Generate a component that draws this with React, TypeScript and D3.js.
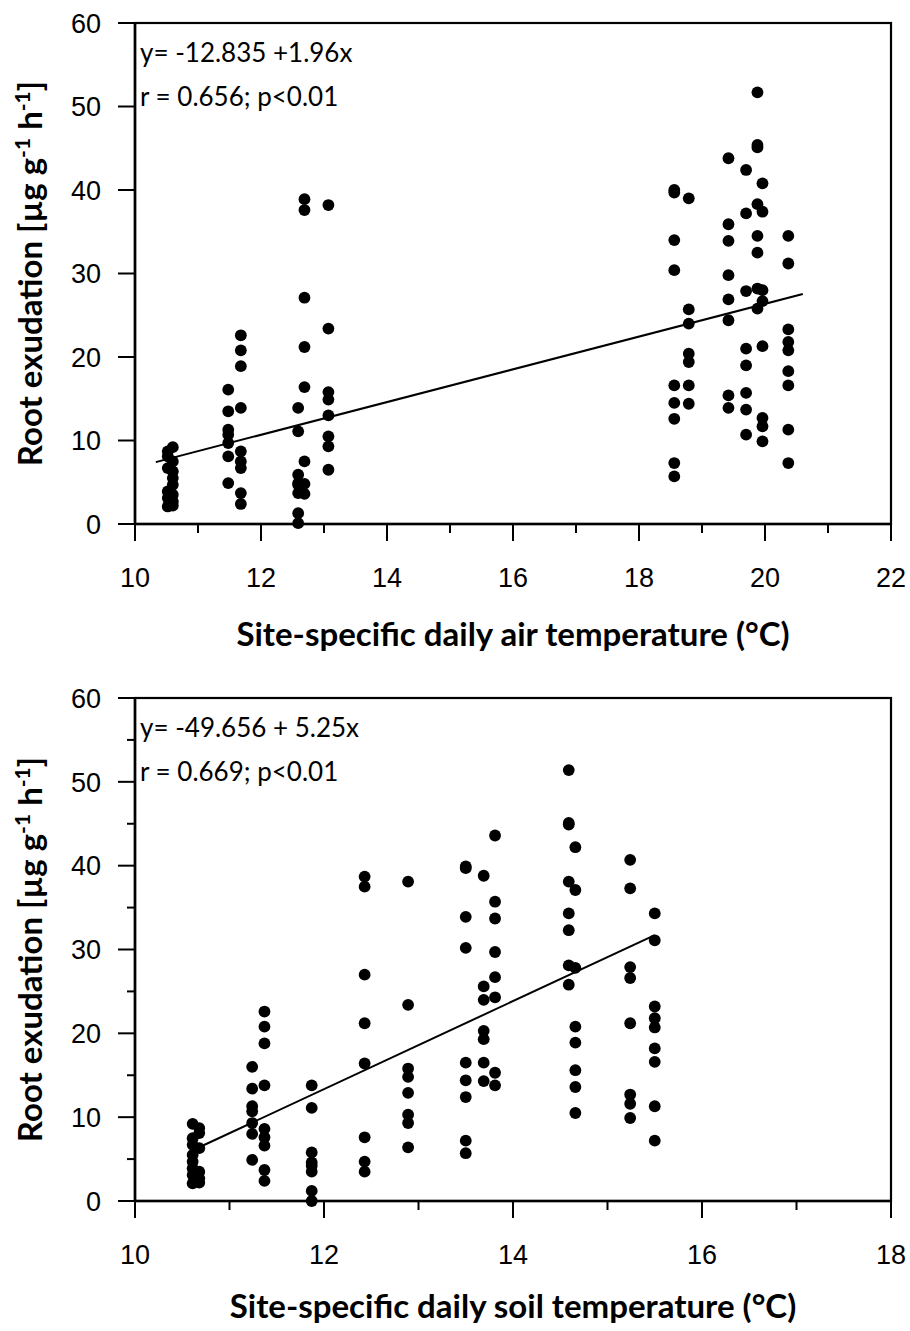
import React from "react";
import * as d3 from "d3";

// Air temperature panel: one x position per sampling column, with the exudation rates measured there
const airTemps = [10.52, 10.6, 11.48, 11.68, 12.59, 12.69, 13.07, 18.56, 18.79, 19.42, 19.7, 19.88, 19.96, 20.37];
const airExudation = [
  [8.7, 8.1, 6.7, 3.9, 3.1, 2.1],
  [9.2, 7.5, 6.3, 5.5, 4.7, 3.5, 2.7, 2.2],
  [16.1, 13.5, 11.3, 10.7, 9.7, 8.1, 4.9],
  [22.6, 20.8, 18.9, 13.9, 8.7, 7.5, 6.7, 3.7, 2.4],
  [13.9, 11.1, 5.9, 4.9, 4.7, 3.7, 1.3, 0.1],
  [38.9, 37.6, 27.1, 21.2, 16.4, 7.5, 4.8, 3.6],
  [38.2, 23.4, 15.8, 14.9, 13.0, 10.5, 9.3, 6.5],
  [40.0, 39.7, 34.0, 30.4, 16.6, 14.5, 12.6, 7.3, 5.7],
  [39.0, 25.7, 24.0, 20.4, 19.4, 16.6, 14.4],
  [43.8, 35.9, 33.9, 29.8, 26.9, 24.4, 15.4, 13.9],
  [42.4, 37.2, 27.9, 21.0, 19.0, 15.7, 13.7, 10.7],
  [51.7, 45.4, 45.1, 38.3, 34.5, 32.5, 28.2, 25.8],
  [40.8, 37.4, 28.0, 26.7, 21.3, 12.7, 11.7, 9.9],
  [34.5, 31.2, 23.3, 21.8, 20.8, 18.3, 16.6, 11.3, 7.3],
];

// Soil temperature panel
const soilTemps = [10.61, 10.68, 11.24, 11.37, 11.87, 12.43, 12.89, 13.5, 13.69, 13.81, 14.59, 14.66, 15.24, 15.5];
const soilExudation = [
  [9.2, 7.5, 6.7, 5.5, 4.7, 3.9, 3.1, 2.1],
  [8.7, 8.1, 6.3, 3.5, 2.7, 2.2],
  [16.0, 13.4, 11.3, 10.7, 9.3, 8.0, 4.9],
  [22.6, 20.8, 18.8, 13.8, 8.6, 7.6, 6.6, 3.7, 2.4],
  [13.8, 11.1, 5.8, 4.6, 4.2, 3.5, 1.2, 0.0],
  [38.7, 37.5, 27.0, 21.2, 16.4, 7.6, 4.7, 3.5],
  [38.1, 23.4, 15.8, 14.8, 12.9, 10.3, 9.3, 6.4],
  [39.9, 39.7, 33.9, 30.2, 16.5, 14.4, 12.4, 7.2, 5.7],
  [38.8, 25.6, 24.0, 20.3, 19.3, 16.5, 14.3],
  [43.6, 35.7, 33.7, 29.7, 26.7, 24.3, 15.3, 13.8],
  [51.4, 45.1, 44.9, 38.1, 34.3, 32.3, 28.1, 25.8],
  [42.2, 37.1, 27.8, 20.8, 18.9, 15.6, 13.6, 10.5],
  [40.7, 37.3, 27.9, 26.6, 21.2, 12.7, 11.6, 9.9],
  [34.3, 31.1, 23.2, 21.8, 20.7, 18.2, 16.6, 11.3, 7.2],
];

// Linear fits: intercept, slope and the x span the fitted line covers
const airFit = { intercept: -12.835, slope: 1.96 };
const airFitRange = [10.33, 20.6];
const soilFit = { intercept: -49.656, slope: 5.25 };
const soilFitRange = [10.68, 15.5];

const airTicks = [10, 12, 14, 16, 18, 20, 22];
const soilTicks = [10, 12, 14, 16, 18];
const yTicks = [0, 10, 20, 30, 40, 50, 60];

const airLabels = ["y= -12.835 +1.96x", "r = 0.656; p<0.01"];
const soilLabels = ["y= -49.656 + 5.25x", "r = 0.669; p<0.01"];
const airTitle = "Site-specific daily air temperature (°C)";
const soilTitle = "Site-specific daily soil temperature (°C)";

const TICK_FONT = "'Liberation Sans', Arial, sans-serif";
const TEXT_FONT = "Lato, 'Open Sans', sans-serif";

type PanelProps = {
  top: number;
  bottom: number;
  xDomain: [number, number];
  xTicks: number[];
  yMinorStep: number | null;
  temps: number[];
  values: number[][];
  fit: { intercept: number; slope: number };
  fitRange: number[];
  labels: string[];
  title: string;
  titleOffset: number;
};

function Panel(p: PanelProps) {
  const left = 135;
  const right = 891;
  const x = d3.scaleLinear().domain(p.xDomain).range([left, right]);
  const y = d3.scaleLinear().domain([0, 60]).range([p.bottom, p.top]);

  const points = p.temps.flatMap((t, i) => p.values[i].map((v) => [t, v] as [number, number]));

  const minorX = d3.range(p.xDomain[0], p.xDomain[1] + 0.001, 1).filter((v) => !p.xTicks.includes(v));
  const minorY = p.yMinorStep
    ? d3.range(0, 60.001, p.yMinorStep).filter((v) => !yTicks.includes(v))
    : [];

  const fitLine = d3
    .line<number>()
    .x((t) => x(t))
    .y((t) => y(p.fit.intercept + p.fit.slope * t));

  const midY = (p.top + p.bottom) / 2;

  return (
    <g>
      {/* frame */}
      <rect x={left} y={p.top} width={right - left} height={p.bottom - p.top} fill="none" stroke="#000" strokeWidth={2.2} />
      <line x1={left} x2={left} y1={p.top} y2={p.bottom} stroke="#000" strokeWidth={2.6} />
      <line x1={left} x2={right} y1={p.bottom} y2={p.bottom} stroke="#000" strokeWidth={2.6} />

      {/* y ticks */}
      {yTicks.map((v) => (
        <g key={"y" + v}>
          <line x1={left - 17} x2={left} y1={y(v)} y2={y(v)} stroke="#000" strokeWidth={2} />
          <text x={left - 34} y={y(v)} dy="0.36em" textAnchor="end" fontFamily={TICK_FONT} fontSize={27}>
            {v}
          </text>
        </g>
      ))}
      {minorY.map((v) => (
        <line key={"ym" + v} x1={left - 8} x2={left} y1={y(v)} y2={y(v)} stroke="#000" strokeWidth={2} />
      ))}

      {/* x ticks */}
      {p.xTicks.map((v) => (
        <g key={"x" + v}>
          <line x1={x(v)} x2={x(v)} y1={p.bottom} y2={p.bottom + 17} stroke="#000" strokeWidth={2} />
          <text x={x(v)} y={p.bottom + 63} textAnchor="middle" fontFamily={TICK_FONT} fontSize={27}>
            {v}
          </text>
        </g>
      ))}
      {minorX.map((v) => (
        <line key={"xm" + v} x1={x(v)} x2={x(v)} y1={p.bottom} y2={p.bottom + 9} stroke="#000" strokeWidth={2} />
      ))}

      {/* data */}
      {points.map(([t, v], i) => (
        <circle key={i} cx={x(t)} cy={y(v)} r={5.9} fill="#000" />
      ))}

      {/* regression line */}
      <path d={fitLine(p.fitRange) ?? ""} fill="none" stroke="#000" strokeWidth={2} />

      {/* equation */}
      <text x={left + 5} y={p.top + 39} fontFamily={TEXT_FONT} fontSize={26}>
        {p.labels[0]}
      </text>
      <text x={left + 5} y={p.top + 83} fontFamily={TEXT_FONT} fontSize={26}>
        {p.labels[1]}
      </text>

      {/* axis titles */}
      <text
        x={(left + right) / 2}
        y={p.bottom + p.titleOffset}
        textAnchor="middle"
        fontFamily={TEXT_FONT}
        fontWeight="bold"
        fontSize={33}
      >
        {p.title}
      </text>
      <text
        transform={`translate(42,${midY}) rotate(-90)`}
        textAnchor="middle"
        fontFamily={TEXT_FONT}
        fontWeight="bold"
        fontSize={33}
      >
        Root exudation [µg g<tspan dy="-12" fontSize={21}>-1</tspan>
        <tspan dy="12"> h</tspan>
        <tspan dy="-12" fontSize={21}>-1</tspan>
        <tspan dy="12">]</tspan>
      </text>
    </g>
  );
}

export default function App() {
  return (
    <svg
      width={910}
      height={1331}
      viewBox="0 0 910 1331"
      style={{ position: "absolute", left: 0, top: 0, background: "#fff" }}
    >
      <rect width={910} height={1331} fill="#fff" />
      <Panel
        top={23}
        bottom={524}
        xDomain={[10, 22]}
        xTicks={airTicks}
        yMinorStep={null}
        temps={airTemps}
        values={airExudation}
        fit={airFit}
        fitRange={airFitRange}
        labels={airLabels}
        title={airTitle}
        titleOffset={122}
      />
      <Panel
        top={698}
        bottom={1201}
        xDomain={[10, 18]}
        xTicks={soilTicks}
        yMinorStep={5}
        temps={soilTemps}
        values={soilExudation}
        fit={soilFit}
        fitRange={soilFitRange}
        labels={soilLabels}
        title={soilTitle}
        titleOffset={117}
      />
    </svg>
  );
}
